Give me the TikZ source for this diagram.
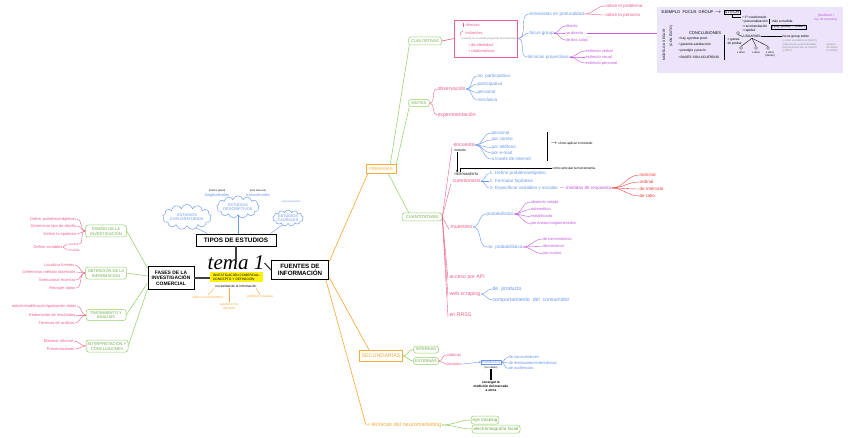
\documentclass[tikz,border=0pt]{standalone}
\usepackage{fontspec}
\setmainfont{Liberation Sans}
\newfontfamily\scrf{Liberation Serif}
\usetikzlibrary{shapes.symbols,arrows.meta}
\definecolor{greenc}{RGB}{150,208,105}
\definecolor{greent}{RGB}{110,170,70}
\definecolor{pinkc}{RGB}{240,95,135}
\definecolor{bluec}{RGB}{105,150,240}
\definecolor{purc}{RGB}{195,85,225}
\definecolor{redc}{RGB}{238,65,60}
\definecolor{orangec}{RGB}{246,172,60}
\definecolor{lavc}{RGB}{236,228,250}
\definecolor{yellowc}{RGB}{255,240,20}
\definecolor{grayc}{RGB}{140,140,140}
\begin{document}
\begin{tikzpicture}[x=1pt,y=-1pt,
  every node/.style={inner sep=0.4pt},
  f3/.style={font=\fontsize{3.3}{3.9}\selectfont},
  f4/.style={font=\fontsize{4}{4.7}\selectfont},
  f45/.style={font=\fontsize{4.6}{5.3}\selectfont},
  f5/.style={font=\fontsize{5.2}{6}\selectfont},
  lw/.style={anchor=west},
  le/.style={anchor=east},
  pk/.style={text=pinkc},
  bu/.style={text=bluec},
  pr/.style={text=purc},
  rd/.style={text=redc},
  og/.style={text=orangec},
  gy/.style={text=grayc},
  gbox/.style={draw=greenc, line width=0.5pt, rounded corners=2.5pt, text=greent, align=center, inner sep=1.2pt, f4},
  tbox/.style={draw=black, line width=0.9pt, align=center, inner sep=1.5pt},
  obox/.style={draw=orangec, line width=0.6pt, text=orangec, inner sep=1.5pt},
  cl/.style={cloud, cloud puffs=13, aspect=2.7, draw=bluec, line width=0.45pt, text=bluec, align=center, inner sep=0pt, font=\fontsize{3.9}{4.5}\selectfont},
  gl/.style={draw=greenc, line width=0.55pt},
  ol/.style={draw=orangec, line width=0.65pt},
  pl/.style={draw=pinkc, line width=0.4pt},
  bl/.style={draw=bluec, line width=0.4pt},
  ul/.style={draw=purc, line width=0.4pt},
  rl/.style={draw=redc, line width=0.4pt},
  kl/.style={draw=black, line width=0.35pt},
]
\useasboundingbox (0,0) rectangle (848,438);
\fill[white] (0,0) rectangle (848,438);

% ================= centre
\node[font=\scrf\itshape\fontsize{21}{21}\selectfont, inner sep=0pt] (tema) at (236,263) {tema 1};
\node[fill=yellowc, f3, align=left, minimum width=53pt, minimum height=10pt, inner sep=1pt] (yel) at (236.5,277) {INVESTIGACIÓN COMERCIAL:\\CONCEPTO Y DEFINICIÓN};
\node[f3] (nec) at (236,286.5) {necesidad de la información};
\node[f3,og] (redi) at (208,297) {reducir incertidumbre};
\node[f3,og,align=center] (ayud) at (229,306) {ayudar en la\\decisión};
\node[f3,og] (just) at (260,297) {justificar una idea};
\draw[ol,line width=0.4pt] (redi.north) -- ([xshift=-22pt]nec.south);
\draw[ol,line width=0.4pt] (ayud.north) -- (ayud.north |- nec.south);
\draw[ol,line width=0.4pt] (just.north) -- ([xshift=20pt]nec.south);

\node[tbox, font=\bfseries\fontsize{6.4}{7}\selectfont, minimum width=80pt, minimum height=12pt] (tipos) at (236,240) {TIPOS DE ESTUDIOS};
\node[tbox, font=\bfseries\fontsize{4.9}{5.6}\selectfont, minimum width=46pt, minimum height=23pt] (fases) at (171,278) {FASES DE LA\\INVESTIGACIÓN\\COMERCIAL};
\node[tbox, font=\bfseries\fontsize{6.2}{7}\selectfont, minimum width=57pt, minimum height=19pt] (fuentes) at (300,270) {FUENTES DE\\INFORMACIÓN};
\draw[line width=1.2pt, draw=black!75] (tipos.south) -- ([yshift=-4pt]tema.north);
\draw[line width=1.2pt, draw=black!75] (fases.east) -- (yel.west |- fases.east);
\draw[line width=1.2pt, draw=black!75] (tema.east) -- (fuentes.west);

% ================= tipos de estudios
\node[cl] (explo) at (187,217) {ESTUDIOS\\EXPLORATORIOS};
\node[cl] (descr) at (238,207) {ESTUDIOS\\DESCRIPTIVOS};
\node[cl] (causa) at (288,218) {ESTUDIOS\\CAUSALES};
\draw[bl] (explo.-50) -- ([xshift=12pt]tipos.north west);
\draw[bl] (descr.south) -- (descr.south |- tipos.north);
\draw[bl] (causa.-130) -- ([xshift=-6pt]tipos.north east);
\node[f4,bu] (longi) at (217,195) {longitudinales};
\node[f4,bu] (trans) at (258,195) {transversales};
\node[font=\fontsize{2.6}{3}\selectfont] (longh) at (217,190.5) {(mismo panel)};
\node[font=\fontsize{2.6}{3}\selectfont] (transh) at (258,190.5) {(una sola vez)};
\node[font=\fontsize{2.6}{3}\selectfont, bu] (caush) at (291,202) {experimentación};

% ================= fases
\node[gbox, minimum width=41pt, minimum height=12pt] (dis) at (106,231) {DISEÑO DE LA\\INVESTIGACIÓN};
\node[gbox, minimum width=41pt, minimum height=12pt] (obt) at (106,273) {OBTENCIÓN DE LA\\INFORMACIÓN};
\node[gbox, minimum width=40pt, minimum height=11pt] (tana) at (106,315) {TRATAMIENTO Y\\ANÁLISIS};
\node[gbox, minimum width=42pt, minimum height=12pt] (inte) at (107,346) {INTERPRETACIÓN Y\\CONCLUSIONES};
\draw[gl] (dis.east) -- ([yshift=10pt]fases.west);
\draw[gl] (obt.east) -- ([yshift=2pt]fases.west);
\draw[gl] (tana.east) -- ([yshift=-5pt]fases.west);
\draw[gl] (inte.east) -- ([yshift=-11pt]fases.west);

\node[f4,pk,le] (d1) at (77,219) {Definir problema/objetivos};
\node[f4,pk,le] (d2) at (77,226) {Determinar tipo de diseño};
\node[f4,pk,le] (d3) at (77,234) {Definir la hipótesis};
\node[f4,pk,le] (d4) at (63,247) {Definir variables};
\node[f3,pk,lw] (d4a) at (68,244) {escala};
\node[f3,pk,lw] (d4b) at (68,250) {medida};
\draw[pl] (d4.east) -- ([xshift=-1pt]d4a.west) (d4.east) -- ([xshift=-1pt]d4b.west);
\foreach \n in {d1,d2,d3} \draw[pl] (\n.east) to[out=0,in=180] (dis.west);
\draw[pl] (d4a.east) to[out=0,in=180] (dis.west);

\node[f4,pk,le] (o1) at (75,265) {Localizar fuentes};
\node[f4,pk,le] (o2) at (76,272) {Determinar método obtención};
\node[f4,pk,le] (o3) at (76,280) {Seleccionar muestra};
\node[f4,pk,le] (o4) at (76,288) {Recoger datos};
\foreach \n in {o1,o2,o3,o4} \draw[pl] (\n.east) to[out=0,in=180] (obt.west);

\node[f4,pk,le] (t1) at (77,306) {edición/codificación/grabación datos};
\node[f4,pk,le] (t2) at (76,315) {Elaboración de resultados};
\node[f4,pk,le] (t3) at (75,323) {Técnicas de análisis};
\foreach \n in {t1,t2,t3} \draw[pl] (\n.east) to[out=0,in=180] (tana.west);

\node[f4,pk,le] (i1) at (74,341) {Elaborar informe};
\node[f4,pk,le] (i2) at (75,349) {Presentaciones};
\foreach \n in {i1,i2} \draw[pl] (\n.east) to[out=0,in=180] (inte.west);

% ================= fuentes
\node[obox, font=\fontsize{4.3}{5}\selectfont, minimum width=30pt, minimum height=9pt] (prim) at (381,169) {PRIMARIAS};
\node[obox, font=\fontsize{5.4}{6}\selectfont, minimum width=43pt, minimum height=11pt] (secu) at (381,356) {SECUNDARIAS};
\node[og, lw, font=\fontsize{5.6}{6.5}\selectfont] (neu) at (366,425) {+ técnicas del neuromarketing};
\draw[ol] ([yshift=-2pt]fuentes.north east) -- ([xshift=2pt]prim.south west);
\draw[ol] ([yshift=3pt]fuentes.south east) -- ([xshift=10pt]secu.north west);
\draw[ol] ([xshift=-3pt]fuentes.south east) -- (neu.west);

% primarias -> green
\node[gbox, minimum width=33pt, minimum height=8pt] (cual) at (425,41) {CUALITATIVAS};
\node[gbox, minimum width=21pt, minimum height=7pt] (mixt) at (419,103) {MIXTAS};
\node[gbox, minimum width=40pt, minimum height=8pt, font=\fontsize{4.2}{4.8}\selectfont] (cuan) at (422,217) {CUANTITATIVAS};
\draw[gl] ([xshift=-6pt]prim.north east) -- ([xshift=1pt]cual.south west);
\draw[gl] (prim.north east) -- ([xshift=1pt]mixt.south west);
\draw[gl] ([xshift=-8pt]prim.south east) -- ([xshift=7pt]cuan.north west);

% ---- cualitativas
\node[draw=pinkc, line width=0.6pt, minimum width=63pt, minimum height=37pt, inner sep=0pt] (pbox) at (486,38.5) {};
\draw[pl, line width=0.6pt] (cual.east) -- (pbox.west);
\node[f4,pk,lw] (dire) at (465,25) {directas};
\node[f4,pk,lw] (indi) at (465,33) {indirectas};
\node[font=\fontsize{2.7}{3.2}\selectfont,gy,lw] (nota) at (461,39) {(cuando no se puede preguntar directamente)};
\node[f4,pk,lw] (iden) at (468,45) {• de identidad};
\node[f4,pk,lw] (cola) at (468,51.5) {• colaborativas};
\draw[pl] ([xshift=-2pt]dire.north west) -- ([xshift=-2pt]dire.south west);
\draw[pl] ([xshift=-2pt]indi.north west) to[out=180,in=90] ([xshift=-5pt,yshift=-1pt]indi.south west);

\node[f45,bu,lw] (entr) at (529,14) {entrevistas en profundidad};
\node[f45,bu,lw] (focu) at (529,33) {focus group};
\node[f45,bu,lw] (tpro) at (527,57) {técnicas proyectivas};
\draw[bl] (pbox.east) to[out=0,in=180] (entr.west);
\draw[bl] (pbox.east) to[out=0,in=180] (focu.west);
\draw[bl] (pbox.east) to[out=0,in=180] (tpro.west);

\node[f45,pk,lw] (sprob) at (605,6) {sobre el problema};
\node[f45,pk,lw] (spers) at (605,15) {sobre la persona};
\draw[pl] (entr.east) to[out=0,in=180] (sprob.west);
\draw[pl] (entr.east) to[out=0,in=180] (spers.west);

\node[f4,pr,lw] (fdir) at (565,26) {directo};
\node[f4,pr,lw] (fndi) at (565,33) {no directo};
\node[f4,pr,lw] (fdos) at (565,40) {de dos salas};
\foreach \n in {fdir,fndi,fdos} \draw[ul] (focu.east) to[out=0,in=180] (\n.west);

\node[f4,pr,lw] (evb) at (585,51) {estímulo verbal};
\node[f4,pr,lw] (evi) at (585,57) {estímulo visual};
\node[f4,pr,lw] (eps) at (585,63) {estímulo personal};
\foreach \n in {evb,evi,eps} \draw[ul] (tpro.east) to[out=0,in=180] (\n.west);

% ---- lavender example box
\node[fill=lavc, minimum width=186pt, minimum height=66pt, inner sep=0pt, anchor=north west] (lav) at (657,7) {};
\draw[ul] ([xshift=3pt]fndi.east) -- (lav.west |- fndi.east);
\node[f4,lw] (ejem) at (661,12) {EJEMPLO \ FOCUS \ GROUP $\rightarrow$};
\node[f4,lw,draw=black,line width=0.3pt,inner sep=0.6pt] (stit) at ([xshift=2pt]ejem.east) {STITCH};
\node[f3,rotate=90] (mode) at (664,45) {MODELO A SEGUIR};
\node[f3,rotate=90] (modb) at (671,36) {(CON ÉXITO)};
\node[f3,lw] (l1) at (742,17) {• 1º cuestionario};
\node[f3,lw] (l2) at (742,21.5) {• personalización};
\node[f3,lw] (l3) at (742,26) {• recomendación};
\node[f3,lw] (l4) at (742,30.5) {• rapidez};
\draw[kl] ([xshift=1pt]l2.north east) -- ([xshift=1pt]l2.south east);
\node[f3,lw] (masa) at ([xshift=3pt]l2.east) {más a medida};
\node[f3,lw,draw=black,line width=0.3pt,inner sep=0.8pt] (pejm) at (771,27) {( p.ej. probar + visitar )};
\node[f3,pr,align=center] (feed) at (826,18) {(feedback /\\ley de muestra)};
\draw[kl] (stit.south) -- ++(0,3) -| ([xshift=-2pt]l1.west);

\node[f4] (conc) at (705,33) {CONCLUSIONES};
\node[f3,lw] (c1) at (678,39) {• hay q probar prod.};
\node[f3,lw] (c2) at (678,45) {• garantía satisfacción};
\node[f3,lw] (c3) at (678,51) {• prestigio y precio};
\node[f3,lw] (c4) at (678,57) {• BASES SON ACUERDOS};
\coordinate (cbt) at (724,35);
\coordinate (cbb) at (724,60);
\draw[kl, line width=0.5pt] (cbt) -- (cbb);
\node[f3,lw,align=left] (gana) at (727,42) {= ganas\\de probar};

\node[draw=black, circle, minimum size=3pt, inner sep=0pt, line width=0.3pt] (fgc) at (738,33) {};
\node[f3] (usua) at (752,36.5) {USUARIOS};
\node[f3,lw] (fgs) at (782,36.5) {focus group sobre};
\draw[kl] (usua.east) -- (fgs.west);
\draw[kl] (fgc.south) -- (usua.west);
\node[draw=black, circle, minimum size=3pt, inner sep=0pt, line width=0.3pt] (p1) at (741,48) {};
\node[draw=black, circle, minimum size=3pt, inner sep=0pt, line width=0.3pt] (p2) at (756,48) {};
\node[draw=black, circle, minimum size=3pt, inner sep=0pt, line width=0.3pt] (p3) at (768,48) {};
\draw[kl] (usua.south) -- (p1.north) (usua.south) -- (p2.north) (usua.south) -- (p3.north);
\node[font=\fontsize{2.6}{3}\selectfont] (p1l) at (741,53) {x años};
\node[font=\fontsize{2.6}{3}\selectfont] (p2l) at (756,53) {x años};
\node[font=\fontsize{2.6}{3}\selectfont,align=center] (p3l) at (770,54) {x años\\(cliente)};
\node[font=\fontsize{2.6}{3.2}\selectfont,gy,align=left,lw] (gnot) at (782,46) {(¿cómo se publicó en Stitch?)\\(impresiones personalizadas)\\(las preguntas que se hacían)\\(¿fácil?)};
\node[font=\fontsize{2.6}{3.2}\selectfont,gy,align=left,lw] (gno2) at (826,48) {(opinión\\de cliente\\en redes)};

% ---- mixtas
\node[f5,pk,lw] (obse) at (437,89) {observación};
\node[f5,pk,lw] (expe) at (437,115) {experimentación};
\draw[pl] (mixt.east) to[out=0,in=180] (obse.west);
\draw[pl] (mixt.east) to[out=0,in=180] (expe.west);
\node[f45,bu,lw] (nopa) at (477,76) {no \ participativa};
\node[f45,bu,lw] (part) at (477,84) {participativa};
\node[f45,bu,lw] (pers) at (477,92.5) {personal};
\node[f45,bu,lw] (meca) at (477,100) {mecánica};
\foreach \n in {nopa,part,pers,meca} \draw[bl] (obse.east) to[out=0,in=180] (\n.west);

% ---- cuantitativas
\node[f5,pk,lw] (encu) at (453,145) {encuesta};
\node[f3,lw] (meto) at (454,150.5) {método};
\node[f3,lw] (herr) at (454,174) {HERRAMIENTA};
\node[f5,pk,lw] (cues) at (452,181) {cuestionario};
\node[f5,pk,lw] (mues) at (450,227) {muestreo};
\node[f5,pk,lw] (api) at (449,277) {acceso por API};
\node[f5,pk,lw] (wscr) at (449,294) {web scraping};
\node[f5,pk,lw] (rrss) at (449,315) {en RRSS};
\draw[kl, -{Stealth[length=2pt,width=2pt]}] ([xshift=-3pt]meto.south) -- ([xshift=-3pt]meto.south |- herr.north);
\foreach \n in {encu,cues,mues,api,wscr,rrss} \draw[pl] (cuan.east) -- ([xshift=-1pt]\n.south west);

\node[f45,bu,lw] (e1) at (491,133) {personal};
\node[f45,bu,lw] (e2) at (491,140) {por correo};
\node[f45,bu,lw] (e3) at (491,147.5) {por teléfono};
\node[f45,bu,lw] (e4) at (491,153) {por e-mail};
\node[f45,bu,lw] (e5) at (491,159) {a través de internet};
\foreach \n in {e1,e2,e3,e4,e5} \draw[bl] (encu.east) to[out=0,in=180] (\n.west);
\coordinate (brt) at (547,132);
\coordinate (brb) at (547,161);
\draw[kl, line width=0.5pt] (brt) -- (brb);
\node[f3,lw] (apli) at (550,144) {$\rightarrow$ cómo aplicar el método};

\node[f3,lw] (arti) at (552,168.5) {cómo articular la herramienta};
\draw[kl, line width=0.5pt] ([xshift=6pt]herr.north west) |- (arti.west);

\node[f45,bu,lw] (q1) at (489,173.5) {1. Definir problema/objetivo};
\node[f45,bu,lw] (q2) at (489,181) {2. Formular hipótesis};
\node[f45,bu,lw] (q3) at (489,188) {3. Especificar variables y escalas};
\foreach \n in {q1,q2,q3} \draw[bl] (cues.east) to[out=0,in=180] (\n.west);
\node[f45,pr,lw] (medr) at ([xshift=1pt]q3.east) {— medidas de respuesta};
\node[f45,rd,lw] (nomi) at (639,175) {nominal};
\node[f45,rd,lw] (ordi) at (639,182) {ordinal};
\node[f45,rd,lw] (inva) at (639,189) {de intervalo};
\node[f45,rd,lw] (rati) at (639,196) {de ratio};
\foreach \n in {nomi,ordi,inva,rati} \draw[rl] (medr.east) to[out=0,in=180] (\n.west);

\node[f45,bu,lw] (prob) at (486,214) {probabilístico};
\node[f45,bu,lw] (nopr) at (487,247) {no \ probabilístico};
\draw[bl] (mues.east) to[out=0,in=180] (prob.west);
\draw[bl] (mues.east) to[out=0,in=180] (nopr.west);
\node[f4,pr,lw] (ale) at (530,202) {aleatorio simple};
\node[f4,pr,lw] (sis) at (530,209.5) {sistemático};
\node[f4,pr,lw] (estr) at (530,216.5) {estratificado};
\node[f4,pr,lw] (area) at (530,223.5) {por áreas/conglomerados};
\foreach \n in {ale,sis,estr,area} \draw[ul] (prob.east) to[out=0,in=180] (\n.west);
\node[f4,pr,lw] (conv) at (542,239) {de conveniencia};
\node[f4,pr,lw] (disc) at (542,246.5) {discrecional};
\node[f4,pr,lw] (cuot) at (542,253.5) {por cuotas};
\foreach \n in {conv,disc,cuot} \draw[ul] (nopr.east) to[out=0,in=180] (\n.west);

\node[f5,bu,lw] (wsp) at (492,289) {de \ producto};
\node[f5,bu,lw] (wsc) at (492,300) {comportamiento \ del \ consumidor};
\draw[bl] (wscr.east) to[out=0,in=180] (wsp.west);
\draw[bl] (wscr.east) to[out=0,in=180] (wsc.west);

% ---- secundarias
\node[gbox, minimum width=25pt, minimum height=7pt] (intn) at (426,349.5) {INTERNAS};
\node[gbox, minimum width=25pt, minimum height=7pt] (extn) at (426,361) {EXTERNAS};
\draw[gl] (secu.east) to[out=0,in=180] (intn.west);
\draw[gl] (secu.east) to[out=0,in=180] (extn.west);
\node[f4,pk,lw] (publ) at (446,355) {públicas};
\node[f4,pk,lw] (priv) at (446,364) {privadas};
\draw[pl] (extn.east) to[out=0,in=180] (publ.west);
\draw[pl] (extn.east) to[out=0,in=180] (priv.west);
\node[f4,bu,draw=bluec,line width=0.3pt,inner sep=0.8pt] (pane) at (491,362) {PANELES};
\node[font=\fontsize{2.6}{3}\selectfont] (sond) at (491,367.5) {(son datos)};
\draw[bl, -{Stealth[length=2pt,width=2pt]}] (priv.east) -- (pane.west);
\node[f4,bu,lw] (pcon) at (508,357.5) {de consumidores};
\node[f4,bu,lw] (pdis) at (508,363) {de distribuidores/detallistas};
\node[f4,bu,lw] (paud) at (508,368.5) {de audiencias};
\foreach \n in {pcon,pdis,paud} \draw[bl] (pane.east) to[out=0,in=180] (\n.west);
\node[font=\bfseries\fontsize{3.3}{4}\selectfont, align=center] (enca) at (491,386) {encargar la\\medición del mercado\\a otros};
\draw[kl, line width=0.5pt] ([xshift=-0.7pt]sond.south) -- ([xshift=-0.7pt]enca.north);
\draw[kl, line width=0.5pt] ([xshift=0.7pt]sond.south) -- ([xshift=0.7pt]enca.north);

% ---- neuromarketing
\node[gbox, f45, minimum height=8pt, inner sep=1.5pt] (eyet) at (485,420) {eye tracking};
\node[gbox, f45, minimum height=8pt, inner sep=1.5pt] (emgf) at (496,429) {electromiografía facial};
\draw[gl] (neu.east) to[out=0,in=180] (eyet.west);
\draw[gl] (neu.east) to[out=0,in=180] (emgf.west);
\end{tikzpicture}
\end{document}
